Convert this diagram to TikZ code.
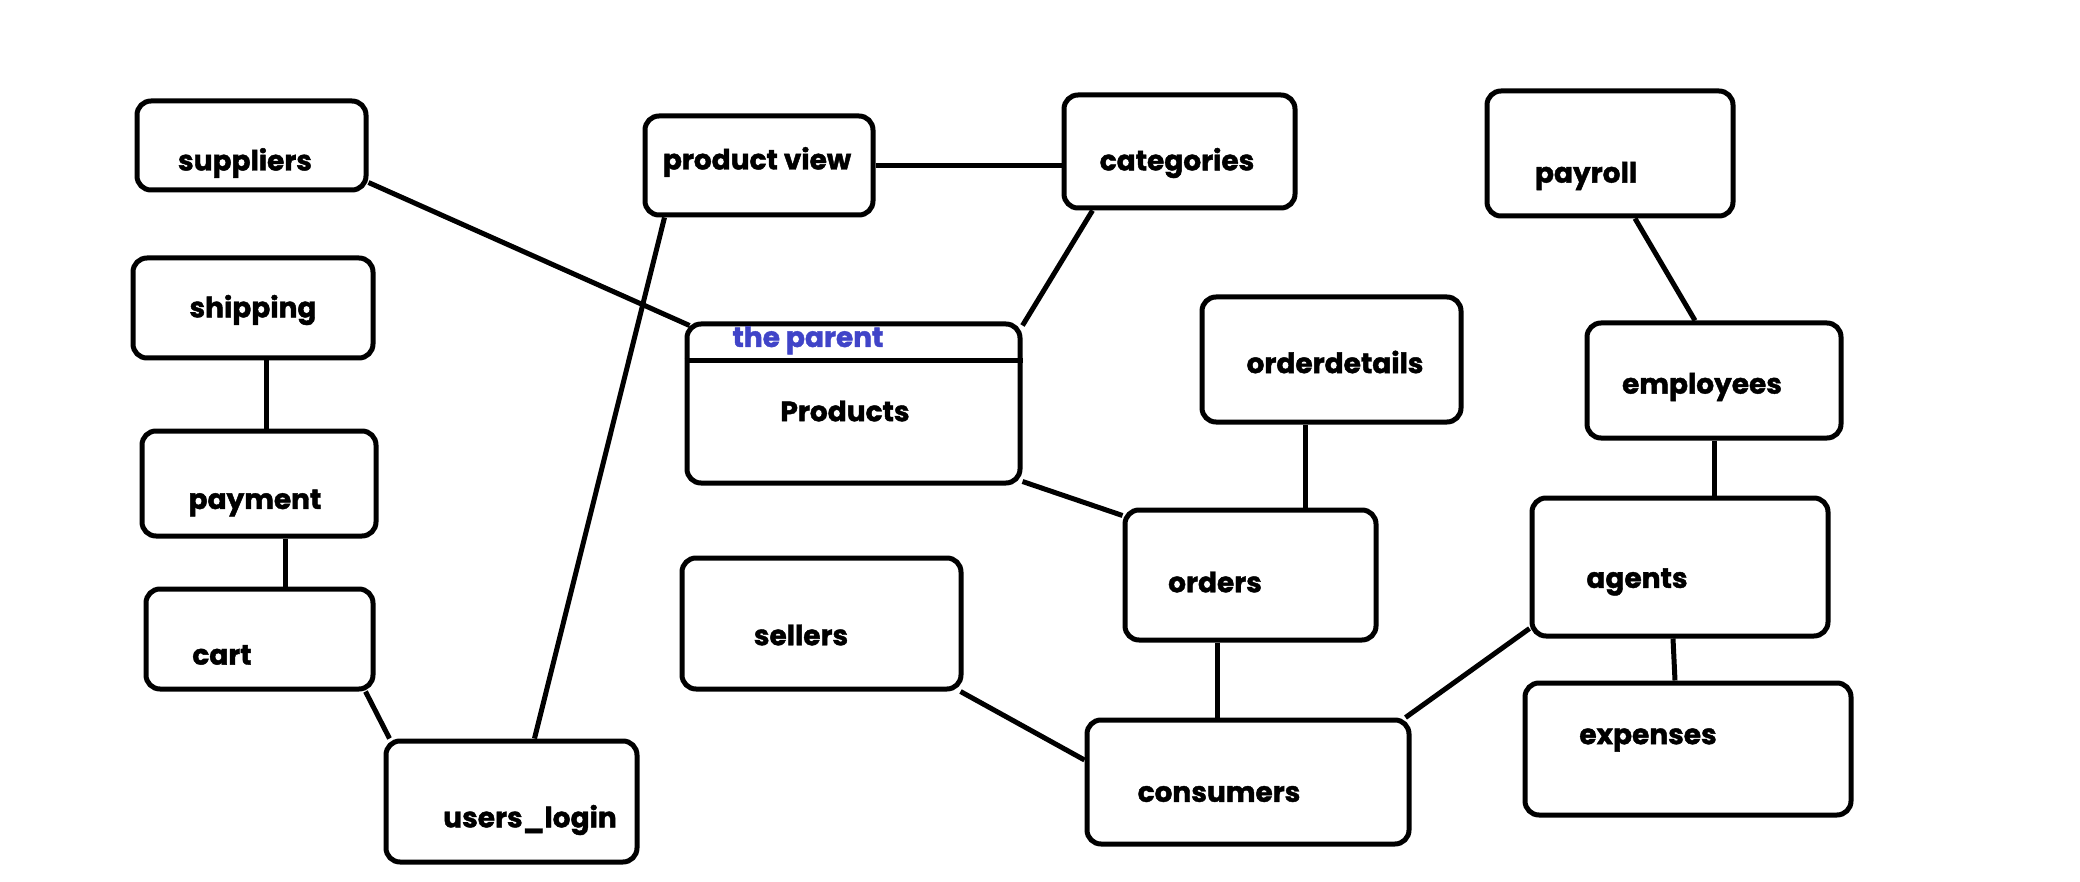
\documentclass[tikz,border=0pt]{standalone}
\usepackage{fontspec}
\setmainfont{Poppins}[BoldFeatures={FakeBold=1.5}]
\usetikzlibrary{fit,calc}
\definecolor{parentblue}{RGB}{64,68,200}
\begin{document}
\begin{tikzpicture}[x=1pt,y=-1pt,
  box/.style={draw=black,line width=5pt,rounded corners=14pt,inner sep=0pt,fit={#1}},
  lbl/.style={font=\bfseries\fontsize{28}{30}\selectfont,text=black,inner sep=0pt},
  link/.style={draw=black,line width=5pt}]
\useasboundingbox[fill=white] (0,0) rectangle (2080,882);
% boxes
\node[box={(137,101) (366,190)}] (supp) {};
\node[box={(645,116) (873,215)}] (pview) {};
\node[box={(1064,95) (1295,208)}] (cat) {};
\node[box={(1487,91) (1733,216)}] (payroll) {};
\node[box={(133,258) (373,358)}] (ship) {};
\node[box={(142,431) (376,536)}] (pay) {};
\node[box={(146,589) (373,689)}] (cart) {};
\node[box={(386,741) (637,862)}] (ulog) {};
\node[box={(687,324) (1020,483)}] (prod) {};
\node[box={(682,558) (961,689)}] (sell) {};
\node[box={(1202,297) (1461,422)}] (odet) {};
\node[box={(1587,323) (1841,438)}] (emp) {};
\node[box={(1125,510) (1376,640)}] (ord) {};
\node[box={(1532,498) (1828,636)}] (agents) {};
\node[box={(1087,720) (1409,844)}] (cons) {};
\node[box={(1525,683) (1851,815)}] (exp) {};
% products divider
\draw[link] ([yshift=-39pt]prod.north west) -- ([yshift=-39pt]prod.north east);
% labels
\node[lbl] (supp-t) at (245,163) {suppliers};
\node[lbl] (pview-t) at (757,162) {product view};
\node[lbl] (cat-t) at (1177,163) {categories};
\node[lbl] (payroll-t) at (1586,176) {payroll};
\node[lbl] (ship-t) at (253,310) {shipping};
\node[lbl] (pay-t) at (255,503) {payment};
\node[lbl] (cart-t) at (222,655) {cart};
\node[lbl] (ulog-t) at (530,820) {users\_login};
\node[lbl,text=parentblue,anchor=base] (parent-t) at (808,347) {the parent};
\node[lbl] (prod-t) at (845,411) {Products};
\node[lbl] (sell-t) at (801,635) {sellers};
\node[lbl] (odet-t) at (1335,362) {orderdetails};
\node[lbl] (emp-t) at (1702,387) {employees};
\node[lbl] (ord-t) at (1215,582) {orders};
\node[lbl] (agents-t) at (1637,582) {agents};
\node[lbl] (cons-t) at (1219,794) {consumers};
\node[lbl] (exp-t) at (1648,740) {expenses};
% connectors
\draw[link] ([yshift=-37pt]supp.east) -- ([xshift=5pt,yshift=-4pt]prod.north west);
\draw[link] ([xshift=22pt]pview.south west) -- ([xshift=151pt]ulog.north west);
\draw[link] (pview.east) -- (pview.east -| cat.west);
\draw[link] ([xshift=13pt]ship.south) -- ([xshift=13pt]ship.south |- pay.north);
\draw[link] ([xshift=26pt]pay.south) -- ([xshift=26pt]pay.south |- cart.north);
\draw[link] ([xshift=-10pt]cart.south east) -- ([xshift=6pt]ulog.north west);
\draw[link] ([xshift=31pt]cat.south west) -- ([yshift=-4pt]prod.north east);
\draw[link] ([yshift=4pt]prod.south east) -- ([yshift=-8pt]ord.north west);
\draw[link] ([xshift=-26pt]odet.south) -- ([xshift=-26pt]odet.south |- ord.north);
\draw[link] ([xshift=-33pt]ord.south) -- ([xshift=-33pt]ord.south |- cons.north);
\draw[link] ([xshift=-3pt]sell.south east) -- ([yshift=22pt]cons.west);
\draw[link] ([yshift=10pt]agents.south west) -- ([xshift=-6pt]cons.north east);
\draw[link] ([xshift=25pt]payroll.south) -- ([xshift=-19pt]emp.north);
\draw[link] (emp.south) -- (emp.south |- agents.north);
\draw[link] ([xshift=-7pt]agents.south) -- ([xshift=-13pt]exp.north);
\end{tikzpicture}
\end{document}
